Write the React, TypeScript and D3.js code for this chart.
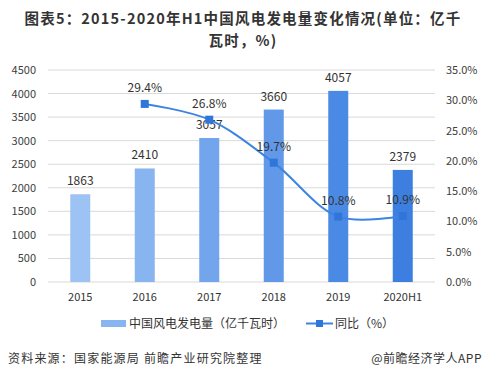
import React from "react";
import * as d3 from "d3";

const categories = ["2015", "2016", "2017", "2018", "2019", "2020H1"];
const generation = [1863, 2410, 3057, 3660, 4057, 2379];
const yoyCats = ["2016", "2017", "2018", "2019", "2020H1"];
const yoy = [29.4, 26.8, 19.7, 10.8, 10.9];
const leftTicks = [0, 500, 1000, 1500, 2000, 2500, 3000, 3500, 4000, 4500];
const rightTicks = [0, 5, 10, 15, 20, 25, 30, 35];
const barColors = ["#9dc3f5", "#88b4f0", "#72a5ec", "#6199e8", "#4b8ae4", "#3c7fe0"];
const titleLines = ["图表5：2015-2020年H1中国风电发电量变化情况(单位：亿千", "瓦时，%)"];

const W = 486, H = 380;
const left = 48, right = 435, top = 70, bottom = 282;
const font = "'Noto Sans CJK SC', 'Noto Sans', sans-serif";

export default function App() {
  const x = d3.scaleBand().domain(categories).range([left, right]).paddingInner(0).paddingOuter(0);
  const yL = d3.scaleLinear().domain([0, 4500]).range([bottom, top]);
  const yR = d3.scaleLinear().domain([0, 35]).range([bottom, top]);
  const cx = (c: string) => (x(c) as number) + x.bandwidth() / 2;
  const barW = 20;
  const linePts: [number, number][] = yoyCats.map((c, i) => [cx(c), yR(yoy[i])]);
  const line = d3.line().curve(d3.curveCatmullRom.alpha(0.5))(linePts) as string;

  return (
    <svg width={W} height={H} style={{ position: "absolute", left: 0, top: 0, background: "#fff" }} fontFamily={font}>
      <rect x={0} y={0} width={W} height={H} fill="#fff" />
      <text x={243} y={24} textAnchor="middle" fontSize={14.5} fontWeight="bold" fill="#333" letterSpacing={1.2}>
        {titleLines[0]}
      </text>
      <text x={243} y={45.5} textAnchor="middle" fontSize={14.5} fontWeight="bold" fill="#333" letterSpacing={1.2}>
        {titleLines[1]}
      </text>
      {leftTicks.map((t) => (
        <line key={t} x1={left} x2={right} y1={yL(t)} y2={yL(t)} stroke="#d9d9d9" strokeWidth={1} />
      ))}
      {leftTicks.map((t) => (
        <text key={"l" + t} x={36} y={yL(t) + 4} textAnchor="end" fontSize={11} fill="#404040">{t}</text>
      ))}
      {rightTicks.map((t) => (
        <text key={"r" + t} x={446} y={yR(t) + 4} textAnchor="start" fontSize={11} fill="#404040">{t.toFixed(1) + "%"}</text>
      ))}
      {categories.map((c, i) => (
        <g key={c}>
          <rect x={cx(c) - barW / 2} y={yL(generation[i])} width={barW} height={bottom - yL(generation[i])} fill={barColors[i]} />
          <text x={cx(c)} y={yL(generation[i]) - 9} textAnchor="middle" fontSize={12} fill="#333">{generation[i]}</text>
          <text x={cx(c)} y={301} textAnchor="middle" fontSize={11} fill="#333">{c}</text>
        </g>
      ))}
      <path d={line} fill="none" stroke="#3d84e2" strokeWidth={2} />
      {linePts.map((p, i) => (
        <g key={i}>
          <rect x={p[0] - 4} y={p[1] - 4} width={8} height={8} fill="#2f75da" />
          <text x={p[0]} y={p[1] - 12} textAnchor="middle" fontSize={12} fill="#333">{yoy[i].toFixed(1) + "%"}</text>
        </g>
      ))}
      <rect x={101} y={320} width={25} height={7} fill="#88b4f0" />
      <text x={129} y={328} fontSize={12} fill="#333">中国风电发电量（亿千瓦时）</text>
      <line x1={306} x2={333} y1={323.5} y2={323.5} stroke="#3d84e2" strokeWidth={2} />
      <rect x={316} y={320} width={7} height={7} fill="#2f75da" />
      <text x={335} y={328} fontSize={12} fill="#333">同比（%）</text>
      <text x={8} y={363} fontSize={12} fill="#333" letterSpacing={1.2}>资料来源：国家能源局 前瞻产业研究院整理</text>
      <text x={482} y={363} textAnchor="end" fontSize={12} fill="#333" letterSpacing={0.5}>@前瞻经济学人APP</text>
    </svg>
  );
}
